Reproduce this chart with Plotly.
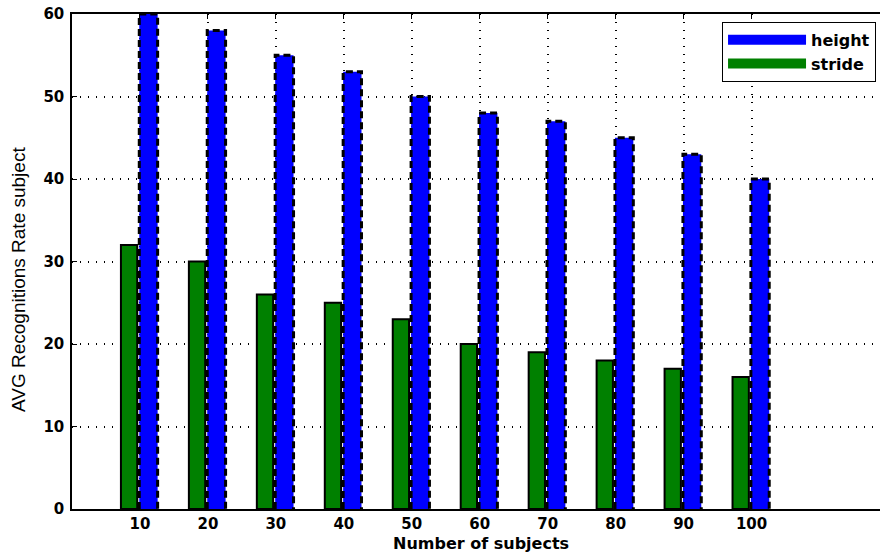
import plotly.graph_objects as go

subjects = [10, 20, 30, 40, 50, 60, 70, 80, 90, 100]
height_vals = [60, 58, 55, 53, 50, 48, 47, 45, 43, 40]
stride_vals = [32, 30, 26, 25, 23, 20, 19, 18, 17, 16]
y_ticks = [0, 10, 20, 30, 40, 50, 60]
x_title = "Number of subjects"
y_title = "AVG Recognitions Rate subject"

# style constants
STRIDE_OFF, STRIDE_W = -2.8, 2.4
HEIGHT_OFF, HEIGHT_W = -0.1, 2.7
BOLD_FONT = "DejaVu Sans, Verdana, sans-serif"
BLUE = "rgb(0,0,255)"
GREEN = "rgb(0,128,0)"

fig = go.Figure()

fig.add_trace(go.Bar(
    x=subjects, y=height_vals, name="height", showlegend=False,
    offset=HEIGHT_OFF, width=HEIGHT_W,
    marker=dict(color=BLUE, line=dict(color="black", width=0)),
))
fig.add_trace(go.Bar(
    x=subjects, y=stride_vals, name="stride", showlegend=False,
    offset=STRIDE_OFF, width=STRIDE_W,
    marker=dict(color=GREEN, line=dict(color="black", width=2)),
))

# dashed outline around the height bars, derived from the data
ox, oy = [], []
for s, h in zip(subjects, height_vals):
    x0 = s + HEIGHT_OFF
    x1 = x0 + HEIGHT_W
    ox += [x0, x0, x1, x1, None]
    oy += [0, h, h, 0, None]
fig.add_trace(go.Scatter(
    x=ox, y=oy, mode="lines", showlegend=False, hoverinfo="skip",
    line=dict(color="black", width=3, dash="7px,4px"),
))

# legend entries (wide swatches)
fig.add_trace(go.Scatter(x=[None], y=[None], mode="lines", name="height",
                         line=dict(color=BLUE, width=16)))
fig.add_trace(go.Scatter(x=[None], y=[None], mode="lines", name="stride",
                         line=dict(color=GREEN, width=16)))

fig.update_layout(
    width=880, height=553,
    barmode="overlay",
    paper_bgcolor="white", plot_bgcolor="white",
    margin=dict(l=72, r=0, t=14, b=44),
    font=dict(family="Liberation Sans, Arial, sans-serif", color="black"),
    legend=dict(
        x=0.8045, y=0.984, xanchor="left", yanchor="top",
        bgcolor="white", bordercolor="black", borderwidth=1,
        font=dict(size=16, family=BOLD_FONT, weight="bold"),
        traceorder="normal", itemwidth=78,
    ),
    showlegend=True,
    annotations=[
        dict(text=x_title, xref="paper", yref="paper", x=0.506, y=-0.0687,
             xanchor="center", yanchor="middle", showarrow=False,
             font=dict(size=16, family=BOLD_FONT, weight="bold")),
        dict(text=y_title, xref="paper", yref="paper", x=-0.0668, y=0.4626,
             xanchor="center", yanchor="middle", showarrow=False, textangle=-90,
             font=dict(size=19, family="Liberation Sans, Arial, sans-serif")),
    ],
)

fig.update_xaxes(
    range=[0, 118.9], automargin=False,
    tickmode="array", tickvals=subjects, ticktext=[str(s) for s in subjects],
    ticks="inside", ticklen=5, tickcolor="black",
    showline=True, linecolor="black", linewidth=1.5, mirror="ticks",
    showgrid=True, gridcolor="black", griddash="1px,7px", gridwidth=1.5,
    zeroline=False, ticklabeloverflow="allow",
    tickfont=dict(size=15, family=BOLD_FONT, weight="bold"),
)
fig.update_yaxes(
    range=[0, 60], automargin=False,
    tickmode="array", tickvals=y_ticks, ticktext=[str(t) for t in y_ticks],
    ticks="inside", ticklen=5, tickcolor="black", ticklabelstandoff=3,
    showline=True, linecolor="black", linewidth=1.5,
    showgrid=True, gridcolor="black", griddash="1px,7px", gridwidth=1.5,
    zeroline=False, ticklabeloverflow="allow",
    tickfont=dict(size=15, family=BOLD_FONT, weight="bold"),
)

fig.write_html("out.html", config={"displayModeBar": False},
               post_script="document.body.style.margin='0';")
